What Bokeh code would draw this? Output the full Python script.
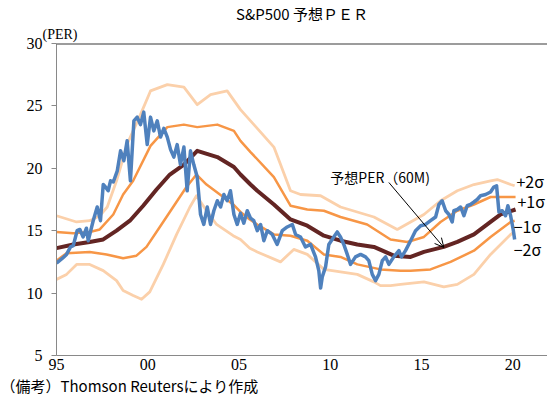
from bokeh.plotting import figure
from bokeh.models import Range1d, FixedTicker, Span, Label, Arrow, OpenHead, Title
from bokeh.embed import file_html
from bokeh.resources import INLINE

# ---- data ----
per_x = [1995.00, 1995.33, 1995.55, 1995.77, 1995.92, 1996.13, 1996.28, 1996.46, 1996.64, 1996.74,
         1997.01, 1997.23, 1997.41, 1997.56, 1997.68, 1997.83, 1997.96, 1998.11, 1998.33, 1998.51,
         1998.69, 1998.87, 1999.05, 1999.24, 1999.42, 1999.60, 1999.78, 1999.97, 2000.15, 2000.33,
         2000.52, 2000.70, 2000.88, 2001.07, 2001.25, 2001.43, 2001.61, 2001.79, 2001.98, 2002.16,
         2002.34, 2002.52, 2002.71, 2002.89, 2003.07, 2003.26, 2003.44, 2003.62, 2003.81, 2003.99,
         2004.17, 2004.35, 2004.53, 2004.72, 2004.90, 2005.08, 2005.26, 2005.45, 2005.63, 2005.81,
         2006.00, 2006.18, 2006.36, 2006.55, 2006.82, 2007.09, 2007.37, 2007.64, 2007.92, 2008.10,
         2008.37, 2008.64, 2008.92, 2009.19, 2009.37, 2009.47, 2009.56, 2009.74, 2009.92, 2010.19,
         2010.38, 2010.56, 2010.74, 2010.93, 2011.11, 2011.38, 2011.66, 2011.93, 2012.11, 2012.30,
         2012.48, 2012.66, 2012.85, 2013.03, 2013.21, 2013.48, 2013.76, 2013.90, 2014.12, 2014.40,
         2014.67, 2014.95, 2015.22, 2015.49, 2015.77, 2015.95, 2016.13, 2016.32, 2016.50, 2016.68,
         2016.77, 2016.96, 2017.14, 2017.32, 2017.50, 2017.68, 2017.87, 2018.05, 2018.23, 2018.51,
         2018.78, 2018.96, 2019.11, 2019.24, 2019.42, 2019.60, 2019.73, 2019.88, 2020.02, 2020.10]
per_y = [12.4, 12.8, 13.1, 13.7, 13.8, 15.0, 15.1, 14.5, 15.2, 14.2,
         15.8, 16.9, 15.8, 18.7, 18.5, 18.2, 19.0, 18.9, 19.8, 21.4,
         20.6, 22.2, 19.0, 23.8, 24.1, 23.5, 24.5, 21.9, 24.1, 23.0,
         23.8, 22.5, 23.2, 22.5, 21.5, 20.9, 21.9, 20.3, 21.7, 18.2,
         21.4, 20.3, 19.3, 16.3, 15.5, 16.9, 15.5, 16.6, 17.4, 16.9,
         17.9, 17.4, 18.2, 16.3, 15.5, 16.4, 15.6, 16.6, 16.0, 15.8,
         15.0, 15.5, 14.2, 15.0, 14.7, 13.9, 15.0, 15.3, 15.5, 14.7,
         14.5, 13.7, 13.9, 12.9, 11.8, 10.4, 11.3, 12.1, 13.9, 14.5,
         14.9, 14.5, 13.9, 13.1, 12.3, 12.9, 13.1, 12.9, 12.6, 11.5,
         11.0, 11.5, 12.6, 12.9, 12.3, 12.9, 13.4, 12.9, 13.4, 14.2,
         15.0, 15.4, 15.5, 15.8, 16.1, 17.1, 17.4, 16.6, 16.3, 15.7,
         16.6, 16.7, 16.9, 16.2, 17.0, 17.1, 17.3, 17.5, 17.8, 17.9,
         18.1, 18.5, 18.6, 16.5, 16.6, 16.2, 17.0, 16.2, 15.1, 14.3]

ma_x = [1995.00, 1995.92, 1996.82, 1997.56, 1998.29, 1999.02, 1999.75, 2000.48, 2001.21, 2001.98,
        2002.71, 2003.81, 2004.72, 2005.08, 2005.63, 2006.00, 2006.91, 2007.82, 2008.74, 2009.65,
        2010.56, 2011.48, 2012.39, 2013.48, 2014.40, 2015.13, 2016.22, 2016.96, 2017.87, 2018.78,
        2019.33, 2020.15]
ma_y = [13.6, 13.9, 14.1, 14.3, 15.0, 15.8, 17.0, 18.3, 19.5, 20.3,
        21.4, 20.9, 20.1, 19.5, 18.7, 18.2, 17.1, 15.9, 15.4, 14.6,
        14.2, 13.9, 13.7, 13.0, 12.9, 13.3, 13.7, 14.1, 14.7, 15.7,
        16.3, 16.7]

p1_x = [1995.00, 1995.92, 1996.82, 1997.37, 1998.11, 1998.65, 1999.20, 2000.15, 2001.07, 2001.98,
        2002.71, 2003.81, 2004.72, 2005.08, 2005.63, 2006.91, 2007.82, 2008.74, 2009.65, 2010.56,
        2012.02, 2013.30, 2014.22, 2015.13, 2016.04, 2016.96, 2017.87, 2018.78, 2019.88, 2020.15]
p1_y = [14.9, 14.8, 14.9, 15.1, 16.3, 17.9, 19.0, 21.8, 23.3, 23.5,
        23.3, 23.5, 23.0, 22.2, 21.3, 19.3, 17.0, 16.7, 16.6, 16.1,
        15.5, 14.3, 14.1, 14.5, 15.7, 16.6, 17.1, 17.7, 17.7, 17.7]

m1_x = [1995.00, 1995.55, 1996.82, 1997.74, 1998.65, 1999.38, 1999.93, 2000.66, 2001.39, 2002.12,
        2002.67, 2003.22, 2003.77, 2004.68, 2005.08, 2005.59, 2006.00, 2006.91, 2007.82, 2008.74,
        2009.65, 2010.56, 2011.48, 2012.75, 2013.85, 2014.40, 2015.49, 2016.59, 2017.87, 2018.78,
        2019.88, 2020.10]
m1_y = [12.6, 13.2, 13.3, 13.1, 12.8, 13.0, 13.7, 15.3, 16.9, 18.5,
        19.5, 18.7, 18.1, 17.1, 16.5, 15.9, 15.5, 14.7, 14.6, 14.2,
        13.1, 12.9, 12.3, 11.9, 11.8, 11.8, 11.9, 12.5, 13.4, 14.5,
        15.7, 15.8]

p2_x = [1995.00, 1996.10, 1996.82, 1997.37, 1997.78, 1998.29, 1998.89, 1999.60, 2000.15, 2001.07,
        2001.98, 2002.71, 2003.44, 2004.35, 2005.08, 2006.18, 2006.91, 2007.82, 2008.37, 2009.47,
        2010.56, 2012.39, 2013.67, 2014.40, 2015.13, 2016.04, 2016.96, 2017.87, 2018.78, 2019.15,
        2019.88, 2020.10]
p2_y = [16.2, 15.7, 15.8, 16.2, 16.9, 19.0, 22.0, 24.3, 26.2, 26.7,
        26.5, 25.1, 25.9, 26.2, 24.7, 22.9, 21.7, 18.2, 17.9, 17.8,
        16.9, 16.1, 15.1, 15.7, 16.3, 17.4, 18.2, 18.7, 19.0, 19.1,
        18.7, 18.6]

m2_x = [1995.00, 1995.55, 1996.10, 1996.82, 1997.56, 1998.29, 1998.65, 1999.20, 1999.66, 2000.11,
        2000.85, 2001.58, 2002.31, 2002.67, 2003.22, 2003.77, 2004.68, 2005.08, 2005.59, 2006.00,
        2007.27, 2008.00, 2008.74, 2009.65, 2010.56, 2011.48, 2012.39, 2012.75, 2013.30, 2013.85,
        2015.13, 2016.22, 2016.96, 2017.87, 2018.78, 2019.88, 2020.10]
m2_y = [11.1, 11.5, 12.3, 12.3, 11.8, 11.0, 10.2, 9.8, 9.5, 10.1,
        12.3, 14.7, 16.9, 17.8, 16.6, 15.5, 14.6, 14.3, 13.6, 13.3,
        12.5, 13.5, 13.1, 11.9, 11.7, 11.5, 10.9, 10.6, 10.6, 10.7,
        10.9, 10.5, 10.7, 11.5, 13.1, 14.7, 14.9]

x_ticks = [1995, 2000, 2005, 2010, 2015, 2020]
x_tick_labels = ["95", "00", "05", "10", "15", "20"]
y_ticks = [5, 10, 15, 20, 25, 30]

title_text = "S&P500 予想ＰＥＲ"
unit_text = "(PER)"
note_text = "（備考）Thomson Reutersにより作成"
ann_text = "予想PER（60M)"
band_labels = ["+2σ", "+1σ", "−1σ", "−2σ"]

# ---- styling ----
JP = "Noto Sans CJK JP"
NUM = "Liberation Sans Narrow"
BLUE = "#4F81BD"
BROWN = "#632523"
ORANGE = "#F79646"
LIGHT = "#FBD0AA"

p = figure(width=547, height=403, output_backend="svg", toolbar_location=None,
           x_range=Range1d(1995, 2021.9), y_range=Range1d(5, 30),
           min_border_left=56, min_border_right=0, min_border_top=42, min_border_bottom=48)
p.outline_line_color = None
p.xgrid.visible = False
p.ygrid.visible = False
p.background_fill_color = "white"
p.border_fill_color = "white"

# axes
p.xaxis.ticker = FixedTicker(ticks=x_ticks)
p.xaxis.major_label_overrides = {t: l for t, l in zip(x_ticks, x_tick_labels)}
p.xaxis.major_tick_line_color = None
p.xaxis.minor_tick_line_color = None
p.xaxis.axis_line_color = "#898989"
p.xaxis.major_label_text_font = NUM
p.xaxis.major_label_text_font_size = "16px"
p.xaxis.major_label_text_color = "black"
p.xaxis.major_label_standoff = -3

p.yaxis.ticker = FixedTicker(ticks=y_ticks)
p.yaxis.major_tick_out = 5
p.yaxis.major_tick_in = 0
p.yaxis.major_tick_line_color = "#898989"
p.yaxis.minor_tick_line_color = None
p.yaxis.axis_line_color = "#898989"
p.yaxis.major_label_text_font = NUM
p.yaxis.major_label_text_font_size = "16px"
p.yaxis.major_label_text_color = "black"
p.yaxis.major_label_standoff = 9

p.add_layout(Span(location=30, dimension="width", line_color="#3a3a3a", line_width=2))

# titles outside the frame (nearest to the frame first)
p.add_layout(Title(text=unit_text, text_font=NUM, text_font_size="14px", text_font_style="normal",
                   align="left", offset=-14, standoff=3, text_color="black"), "above")
p.add_layout(Title(text=title_text, text_font=JP, text_font_size="15px", text_font_style="normal",
                   align="center", standoff=0, text_color="black"), "above")
p.add_layout(Title(text=note_text, text_font=JP, text_font_size="15px", text_font_style="normal",
                   align="left", offset=-56, standoff=0, text_color="black"), "below")

# lines
p.line(p2_x, p2_y, line_color=LIGHT, line_width=2.8, line_join="round")
p.line(m2_x, m2_y, line_color=LIGHT, line_width=2.8, line_join="round")
p.line(p1_x, p1_y, line_color=ORANGE, line_width=2.5, line_join="round")
p.line(m1_x, m1_y, line_color=ORANGE, line_width=2.5, line_join="round")
p.line(ma_x, ma_y, line_color=BROWN, line_width=4, line_join="round")
p.line(per_x, per_y, line_color=BLUE, line_width=3.5, line_join="round")

# in-frame annotation
p.add_layout(Label(x=2010.0, y=19.32, text=ann_text, text_font=JP, text_font_size="14px",
                   text_align="left", text_baseline="middle", text_color="black"))
p.add_layout(Arrow(end=OpenHead(size=9, line_width=1, line_color="black"),
                   x_start=2013.21, y_start=18.86, x_end=2016.22, y_end=13.66,
                   line_color="black", line_width=1))

band_label_x = [2020.2, 2020.25, 2020.05, 2020.05]
band_label_y = [19.0, 17.4, 15.4, 13.56]
for t, bx, by in zip(band_labels, band_label_x, band_label_y):
    p.add_layout(Label(x=bx, y=by, text=t, text_font=JP, text_font_size="16px",
                       text_align="left", text_baseline="middle", text_color="black"))

open("out.html", "w").write(file_html(p, INLINE))
